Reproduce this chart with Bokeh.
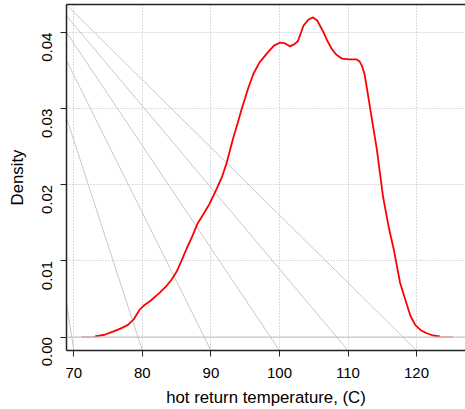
import math
from bokeh.plotting import figure
from bokeh.models import Range1d, FixedTicker, PrintfTickFormatter, LinearAxis, Span
from bokeh.embed import file_html
from bokeh.resources import INLINE

# ---- data ----
dens_x = [73.1, 74.5, 75.7, 76.8, 77.9, 78.8, 79.6, 80.3, 81.1, 82.5, 83.5, 84.3,
          85.0, 85.7, 86.4, 87.3, 88.1, 88.6, 89.8, 90.8, 91.6, 92.3, 93.2, 93.9,
          94.5, 95.4, 96.2, 97.1, 98.3, 99.2, 100.1, 100.8, 101.5, 102.2, 102.7,
          103.5, 104.2, 104.9, 105.5, 106.4, 107.0, 107.6, 108.3, 109.1, 110.2,
          111.2, 111.7, 112.0, 112.4, 112.7, 113.4, 114.2, 115.1, 115.9, 116.7,
          117.6, 118.5, 119.1, 119.8, 120.6, 121.5, 122.4, 123.4]
dens_y = [0.0001, 0.0003, 0.0007, 0.0011, 0.0016, 0.0024, 0.0036, 0.0042, 0.0047,
          0.0058, 0.0067, 0.0076, 0.0086, 0.0100, 0.0115, 0.0133, 0.0150, 0.0157,
          0.0175, 0.0194, 0.0210, 0.0229, 0.0260, 0.0281, 0.0300, 0.0326, 0.0346,
          0.0361, 0.0374, 0.0383, 0.0387, 0.0386, 0.0382, 0.0385, 0.0389, 0.0409,
          0.0417, 0.0420, 0.0416, 0.0401, 0.0389, 0.0379, 0.0371, 0.0366, 0.0365,
          0.0365, 0.0362, 0.0357, 0.0346, 0.0330, 0.0291, 0.0247, 0.0185, 0.0146,
          0.0114, 0.0071, 0.0045, 0.0028, 0.0016, 0.0009, 0.0005, 0.0002, 0.0001]
tail_left_x = [71.1, 73.1]
tail_right_x = [123.4, 125.3]
tail_y = [0.0, 0.0]

fan_end_x = [70, 80, 90, 100, 110, 120]
fan_apex_x = 61.0
fan_apex_y = 0.0507

x_ticks = [70, 80, 90, 100, 110, 120]
y_ticks = [0.0, 0.01, 0.02, 0.03, 0.04]

x_lo, x_hi = 68.93, 127.14
y_lo, y_hi = -0.00177, 0.0437

FONT = "Liberation Sans"

p = figure(width=465, height=409, output_backend="svg", toolbar_location=None,
           x_range=Range1d(x_lo, x_hi), y_range=Range1d(y_lo, y_hi),
           min_border_left=66, min_border_right=0, min_border_top=4,
           min_border_bottom=58, outline_line_color=None,
           background_fill_color="white", border_fill_color="white")

# grid
for g in (p.xgrid, p.ygrid):
    g.grid_line_color = "#b8b8b8"
    g.grid_line_dash = "1 2"
    g.grid_line_width = 1
p.xgrid.ticker = FixedTicker(ticks=x_ticks)
p.ygrid.ticker = FixedTicker(ticks=y_ticks)

# axes
for ax in (p.xaxis[0], p.yaxis[0]):
    ax.axis_line_color = "#222222"
    ax.axis_line_width = 1.5
    ax.major_tick_line_color = "#222222"
    ax.major_tick_in = 0
    ax.major_tick_out = 6
    ax.minor_tick_line_color = None
    ax.major_label_text_font = FONT
    ax.major_label_text_font_size = "15px"
    ax.major_label_text_color = "black"
    ax.axis_label_text_font = FONT
    ax.axis_label_text_font_size = "16.8px"
    ax.axis_label_text_font_style = "normal"
    ax.axis_label_text_color = "black"

p.xaxis.ticker = FixedTicker(ticks=x_ticks)
p.yaxis.ticker = FixedTicker(ticks=y_ticks)
p.yaxis.formatter = PrintfTickFormatter(format="%.2f")
p.yaxis.major_label_orientation = math.pi / 2
p.xaxis.axis_label = "hot return temperature, (C)"
p.yaxis.axis_label = "Density"
p.xaxis.major_label_standoff = 11
p.xaxis.axis_label_standoff = 7
p.yaxis.major_label_standoff = 13
p.yaxis.axis_label_standoff = 8

top = LinearAxis(ticker=FixedTicker(ticks=[]), axis_line_color="#222222",
                 axis_line_width=1.5, major_tick_in=0, major_tick_out=0,
                 minor_tick_in=0, minor_tick_out=0, major_label_standoff=0,
                 major_label_text_font_size="0px")
p.add_layout(top, "above")

# fan of grey lines
for xe in fan_end_x:
    p.line([fan_apex_x, xe], [fan_apex_y, y_lo], line_color="#c8c8c8", line_width=1)

# zero line
p.add_layout(Span(location=0, dimension="width", line_color="#bebebe", line_width=1))

# density
p.line(tail_left_x, tail_y, line_color="#f5a3a3", line_width=2)
p.line(tail_right_x, tail_y, line_color="#f5a3a3", line_width=2)
p.line(dens_x, dens_y, line_color="red", line_width=1.8, line_join="round")

open("out.html", "w").write(file_html(p, INLINE))
